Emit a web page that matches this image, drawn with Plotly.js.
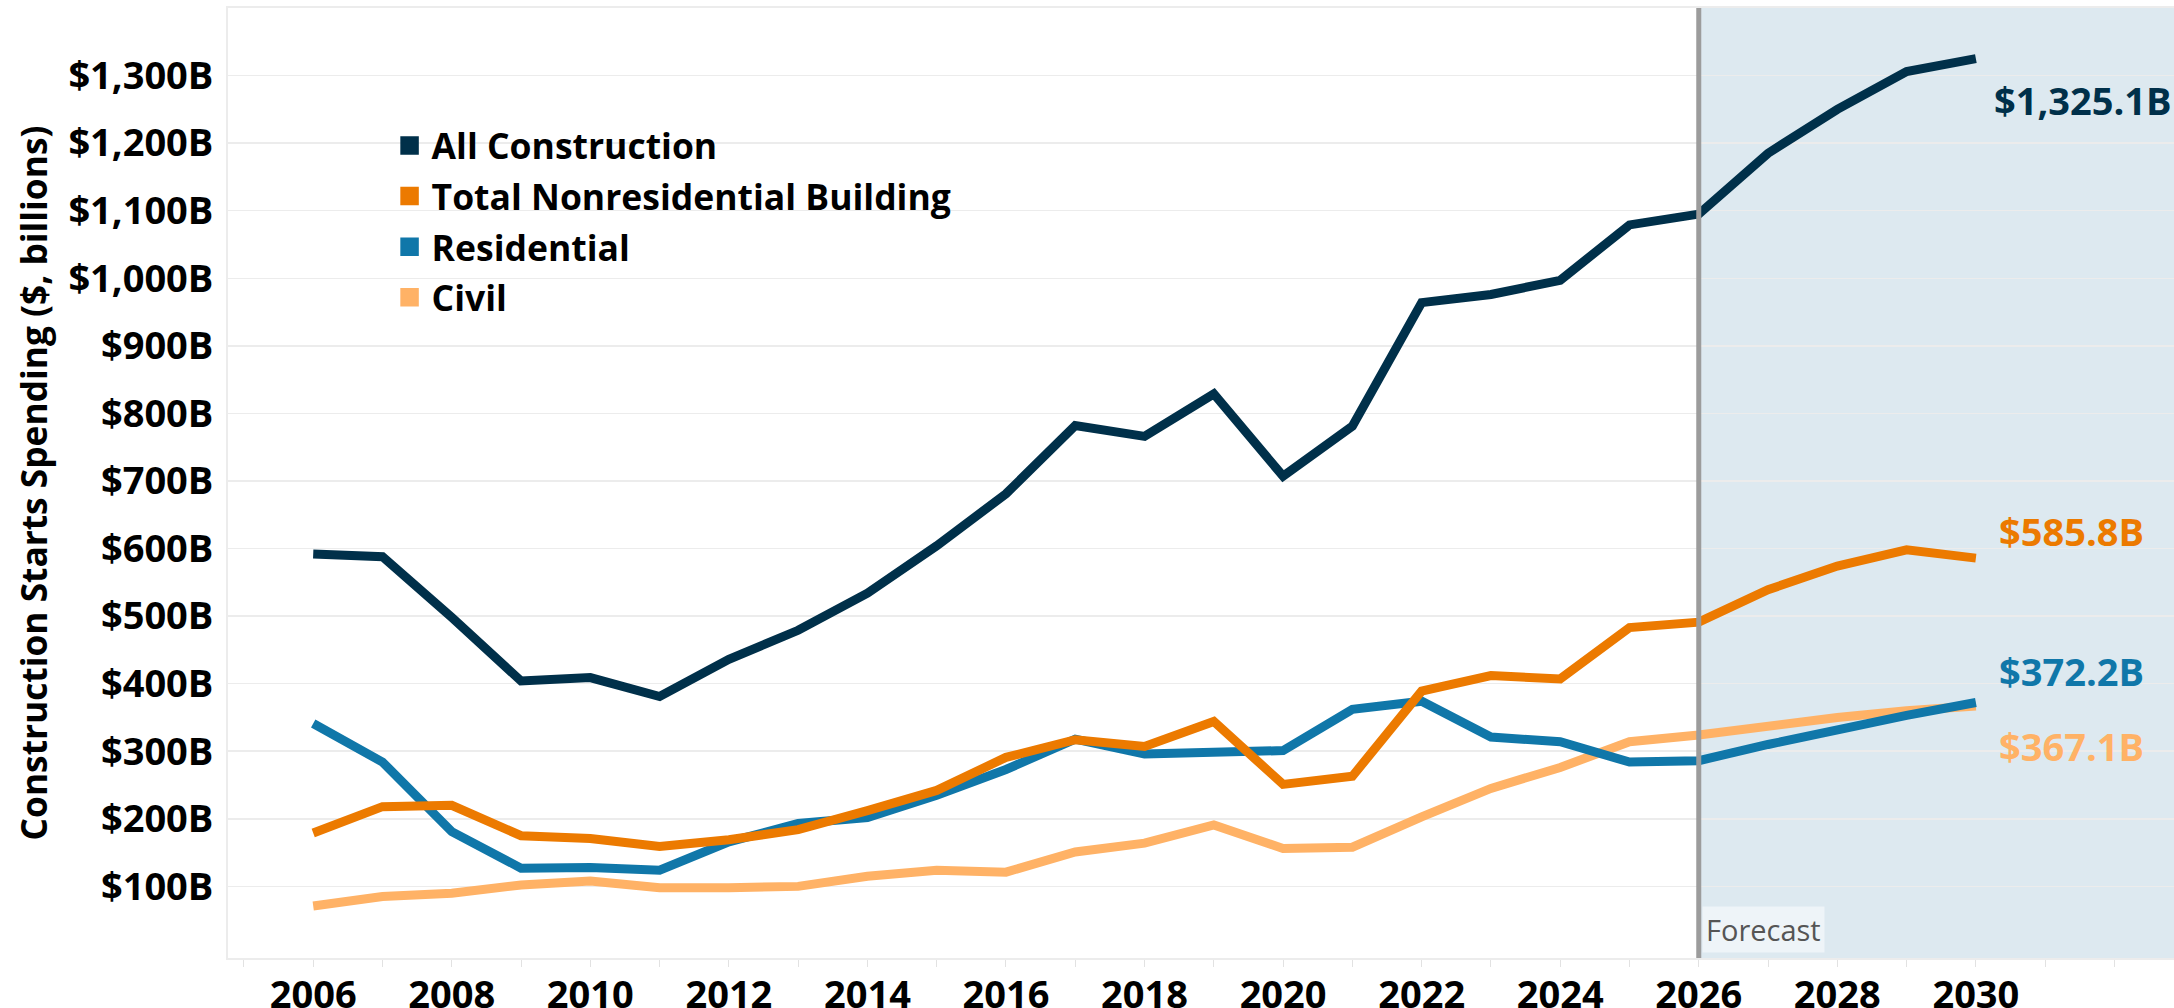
<!DOCTYPE html>
<html><head><meta charset="utf-8">
<script src="https://cdn.plot.ly/plotly-3.0.1.min.js"></script>
<style>html,body{margin:0;padding:0;background:#fff}#chart{width:2174px;height:1008px}</style>
</head><body><div id="chart"></div>
<script>
const years = [2006,2007,2008,2009,2010,2011,2012,2013,2014,2015,2016,2017,2018,2019,2020,2021,2022,2023,2024,2025,2026,2027,2028,2029,2030];
const allConstruction = [592,588,498,404,409,381,436,479,534,604,681,782,766,829,707,781,964,976,997,1079,1095,1185,1250,1306,1325.1];
const nonresidential = [179,218,220,175,171,159,169,184,212,242,291,317,307,344,251,263,389,412,407,483,491,539,574,598,585.8];
const residential = [341,284,181,127,128,124,166,193,202,235,273,318,296,298,301,362,374,321,314,284,286,310,333,353,372.2];
const civil = [71,85,90,102,108,98,98,100,115,124,121,151,164,191,156,158,203,245,276,314,324,338,350,360,367.1];
const seriesNames = ['All Construction','Total Nonresidential Building','Residential','Civil'];
const seriesColors = ['#00304A','#EC7A00','#1077A9','#FFB266'];
const yTickVals = [100,200,300,400,500,600,700,800,900,1000,1100,1200,1300];
const xTickVals = [2006,2008,2010,2012,2014,2016,2018,2020,2022,2024,2026,2028,2030];
const forecastStart = 2026;
const forecastLabel = 'Forecast';
const yTitle = 'Construction Starts Spending ($, billions)';

const seriesData = [allConstruction, nonresidential, residential, civil];
const xRange = [2004.77, 2032.86];
const yRange = [-6, 1400];
const FONT = '"Open Sans", "Noto Sans", sans-serif';

const fmtTick = v => '$' + v.toLocaleString('en-US') + 'B';
const fmtEnd = v => '$' + v.toLocaleString('en-US', {minimumFractionDigits: 1, maximumFractionDigits: 1}) + 'B';

// draw order bottom->top: civil, residential, nonresidential, all
const drawOrder = [3,2,1,0];
const traces = [];
drawOrder.forEach(i => {
  traces.push({
    x: years, y: seriesData[i], type: 'scatter', mode: 'lines',
    name: seriesNames[i], showlegend: false, hoverinfo: 'x+y',
    line: {color: seriesColors[i], width: 9}
  });
});
// legend entries (square swatches)
seriesNames.forEach((n, i) => {
  traces.push({
    x: [null], y: [null], type: 'scatter', mode: 'markers', name: n,
    legendgroup: 'g' + i, showlegend: true,
    marker: {symbol: 'square', size: 16, color: seriesColors[i], line: {width: 2.5, color: seriesColors[i]}}
  });
});

const endShift = [{xs: 16, ys: -41}, {xs: 21, ys: 27}, {xs: 21, ys: 31}, {xs: 21, ys: -40}];
const annotations = seriesData.map((d, i) => ({
  x: years[years.length - 1], y: d[d.length - 1], xref: 'x', yref: 'y',
  text: fmtEnd(d[d.length - 1]), showarrow: false, xanchor: 'left', yanchor: 'middle',
  xshift: endShift[i].xs, yshift: endShift[i].ys,
  font: {family: FONT, size: 38, color: seriesColors[i], weight: 700}
}));
annotations.push({
  x: forecastStart, y: yRange[0], xref: 'x', yref: 'y', text: forecastLabel, showarrow: false,
  xanchor: 'left', yanchor: 'bottom', xshift: 3, yshift: 5,
  bgcolor: 'rgba(255,255,255,0.5)', borderpad: 3,
  font: {family: FONT, size: 29, color: '#555555'}
});

const layout = {
  width: 2174, height: 1008,
  margin: {l: 228, r: 0, t: 8, b: 50, pad: 0},
  paper_bgcolor: '#ffffff', plot_bgcolor: '#ffffff',
  showlegend: true,
  legend: {
    x: 0.082, y: 0.8865, xanchor: 'left', yanchor: 'top', itemwidth: 34,
    bgcolor: 'rgba(0,0,0,0)', tracegroupgap: 1.5, traceorder: 'grouped',
    font: {family: FONT, size: 35.5, color: '#000', weight: 700}
  },
  xaxis: {
    range: xRange, tickmode: 'array', tickvals: xTickVals,
    ticks: 'outside', ticklen: 7, tickcolor: '#e2e2e2', tickwidth: 1,
    minor: {tickmode: 'linear', tick0: 2005, dtick: 1, ticks: 'outside', ticklen: 7, tickcolor: '#e2e2e2', showgrid: false},
    showgrid: false, zeroline: false,
    showline: true, linecolor: '#ececec', linewidth: 2, mirror: true,
    tickfont: {family: FONT, size: 38, color: '#000', weight: 700},
    ticklabelstandoff: -5
  },
  yaxis: {
    range: yRange, tickmode: 'array', tickvals: yTickVals, ticktext: yTickVals.map(fmtTick),
    showgrid: true, gridcolor: '#ececec', gridwidth: 1.5, zeroline: false,
    showline: true, linecolor: '#ececec', linewidth: 2,
    ticks: '', ticklabelstandoff: 5,
    tickfont: {family: FONT, size: 38, color: '#000', weight: 700},
    title: {text: yTitle, standoff: 10, font: {family: FONT, size: 35.3, color: '#000', weight: 700}}
  },
  shapes: [
    {type: 'rect', xref: 'x', yref: 'paper', x0: forecastStart, x1: xRange[1], y0: 0, y1: 1,
     fillcolor: '#DDE9F0', line: {width: 0}, layer: 'below'},
    {type: 'line', xref: 'x', yref: 'paper', x0: forecastStart, x1: forecastStart, y0: 0, y1: 1,
     line: {color: '#9c9c9c', width: 5}, layer: 'above'}
  ],
  annotations: annotations
};

Plotly.newPlot('chart', traces, layout, {displayModeBar: false, staticPlot: true});
</script>
</body></html>
